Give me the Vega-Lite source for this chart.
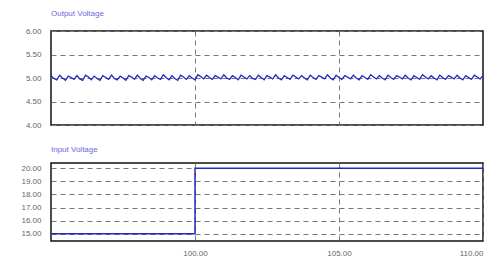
{
"$schema": "https://vega.github.io/schema/vega-lite/v6.json",
"padding": {"left": 20, "top": 9, "right": 4, "bottom": 2},
"spacing": 15,
"config": {
  "font": "Liberation Sans",
  "view": {"stroke": "#111", "strokeWidth": 1.5},
  "axis": {"labelFont": "Liberation Sans", "labelFontSize": 8, "labelColor": "#666", "ticks": false, "domain": false, "labelPadding": 10, "grid": true, "gridColor": "#777", "gridDash": [5, 4], "gridWidth": 1, "title": null},
  "title": {"font": "Liberation Sans", "fontSize": 8, "fontWeight": "normal", "color": "#6a6ad8", "anchor": "start", "frame": "group", "offset": 9}
},
"vconcat": [
 {
  "title": "Output Voltage",
  "width": 432, "height": 94,
  "data": {"values": [
   {"t":95.0,"v":5.05},{"t":95.1,"v":4.99},{"t":95.2,"v":4.96},
   {"t":95.3,"v":5.06},{"t":95.4,"v":5.00},{"t":95.5,"v":4.95},
   {"t":95.6,"v":5.04},{"t":95.7,"v":5.01},{"t":95.8,"v":4.97},
   {"t":95.9,"v":5.05},{"t":96.0,"v":4.98},{"t":96.1,"v":4.95},
   {"t":96.2,"v":5.06},{"t":96.3,"v":5.02},{"t":96.4,"v":4.96},
   {"t":96.5,"v":5.04},{"t":96.6,"v":4.99},{"t":96.7,"v":4.95},
   {"t":96.8,"v":5.05},{"t":96.9,"v":5.01},{"t":97.0,"v":4.97},
   {"t":97.1,"v":5.06},{"t":97.2,"v":4.99},{"t":97.3,"v":4.96},
   {"t":97.4,"v":5.04},{"t":97.5,"v":5.00},{"t":97.6,"v":4.95},
   {"t":97.7,"v":5.05},{"t":97.8,"v":5.02},{"t":97.9,"v":4.97},
   {"t":98.0,"v":5.06},{"t":98.1,"v":4.99},{"t":98.2,"v":4.95},
   {"t":98.3,"v":5.04},{"t":98.4,"v":5.01},{"t":98.5,"v":4.96},
   {"t":98.6,"v":5.05},{"t":98.7,"v":5.00},{"t":98.8,"v":4.97},
   {"t":98.9,"v":5.07},{"t":99.0,"v":5.01},{"t":99.1,"v":4.96},
   {"t":99.2,"v":5.05},{"t":99.3,"v":4.99},{"t":99.4,"v":4.95},
   {"t":99.5,"v":5.06},{"t":99.6,"v":5.02},{"t":99.7,"v":4.97},
   {"t":99.8,"v":5.05},{"t":99.9,"v":5.00},{"t":100.0,"v":4.96},
   {"t":100.1,"v":5.07},{"t":100.2,"v":5.03},{"t":100.3,"v":4.98},
   {"t":100.4,"v":5.06},{"t":100.5,"v":5.01},{"t":100.6,"v":4.97},
   {"t":100.7,"v":5.05},{"t":100.8,"v":5.02},{"t":100.9,"v":4.98},
   {"t":101.0,"v":5.07},{"t":101.1,"v":5.00},{"t":101.2,"v":4.97},
   {"t":101.3,"v":5.05},{"t":101.4,"v":5.01},{"t":101.5,"v":4.96},
   {"t":101.6,"v":5.06},{"t":101.7,"v":5.02},{"t":101.8,"v":4.98},
   {"t":101.9,"v":5.05},{"t":102.0,"v":4.99},{"t":102.1,"v":4.97},
   {"t":102.2,"v":5.06},{"t":102.3,"v":5.01},{"t":102.4,"v":4.96},
   {"t":102.5,"v":5.05},{"t":102.6,"v":5.02},{"t":102.7,"v":4.98},
   {"t":102.8,"v":5.07},{"t":102.9,"v":5.00},{"t":103.0,"v":4.96},
   {"t":103.1,"v":5.05},{"t":103.2,"v":5.01},{"t":103.3,"v":4.97},
   {"t":103.4,"v":5.06},{"t":103.5,"v":5.02},{"t":103.6,"v":4.98},
   {"t":103.7,"v":5.05},{"t":103.8,"v":5.00},{"t":103.9,"v":4.96},
   {"t":104.0,"v":5.06},{"t":104.1,"v":5.01},{"t":104.2,"v":4.97},
   {"t":104.3,"v":5.05},{"t":104.4,"v":5.02},{"t":104.5,"v":4.98},
   {"t":104.6,"v":5.07},{"t":104.7,"v":5.00},{"t":104.8,"v":4.96},
   {"t":104.9,"v":5.06},{"t":105.0,"v":5.01},{"t":105.1,"v":4.97},
   {"t":105.2,"v":5.05},{"t":105.3,"v":5.02},{"t":105.4,"v":4.98},
   {"t":105.5,"v":5.06},{"t":105.6,"v":5.00},{"t":105.7,"v":4.96},
   {"t":105.8,"v":5.05},{"t":105.9,"v":5.01},{"t":106.0,"v":4.97},
   {"t":106.1,"v":5.07},{"t":106.2,"v":5.02},{"t":106.3,"v":4.98},
   {"t":106.4,"v":5.05},{"t":106.5,"v":5.00},{"t":106.6,"v":4.96},
   {"t":106.7,"v":5.06},{"t":106.8,"v":5.01},{"t":106.9,"v":4.97},
   {"t":107.0,"v":5.05},{"t":107.1,"v":5.02},{"t":107.2,"v":4.98},
   {"t":107.3,"v":5.06},{"t":107.4,"v":5.00},{"t":107.5,"v":4.96},
   {"t":107.6,"v":5.05},{"t":107.7,"v":5.01},{"t":107.8,"v":4.97},
   {"t":107.9,"v":5.07},{"t":108.0,"v":5.02},{"t":108.1,"v":4.98},
   {"t":108.2,"v":5.05},{"t":108.3,"v":5.00},{"t":108.4,"v":4.96},
   {"t":108.5,"v":5.06},{"t":108.6,"v":5.01},{"t":108.7,"v":4.97},
   {"t":108.8,"v":5.05},{"t":108.9,"v":5.02},{"t":109.0,"v":4.98},
   {"t":109.1,"v":5.06},{"t":109.2,"v":5.00},{"t":109.3,"v":4.96},
   {"t":109.4,"v":5.05},{"t":109.5,"v":5.01},{"t":109.6,"v":4.97},
   {"t":109.7,"v":5.06},{"t":109.8,"v":5.02},{"t":109.9,"v":4.98},
   {"t":110.0,"v":5.05}
  ]},
  "mark": {"type": "line", "color": "#2626c8", "strokeWidth": 1.3},
  "encoding": {
   "x": {"field": "t", "type": "quantitative", "scale": {"domain": [95, 110], "nice": false}, "axis": {"labels": false, "values": [100, 105]}},
   "y": {"field": "v", "type": "quantitative", "scale": {"domain": [4, 6], "nice": false}, "axis": {"values": [4, 4.5, 5, 5.5, 6], "format": ".2f"}}
  }
 },
 {
  "title": "Input Voltage",
  "width": 432, "height": 78,
  "data": {"values": [
   {"t": 95, "v": 15},
   {"t": 100, "v": 20},
   {"t": 110, "v": 20}
  ]},
  "mark": {"type": "line", "color": "#2626c8", "strokeWidth": 1.5, "interpolate": "step-after"},
  "encoding": {
   "x": {"field": "t", "type": "quantitative", "scale": {"domain": [95, 110], "nice": false}, "axis": {"values": [100, 105, 110], "format": ".2f", "labelPadding": 8}},
   "y": {"field": "v", "type": "quantitative", "scale": {"domain": [14.45, 20.4], "nice": false, "zero": false}, "axis": {"values": [15, 16, 17, 18, 19, 20], "format": ".2f"}}
  }
 }
]
}
